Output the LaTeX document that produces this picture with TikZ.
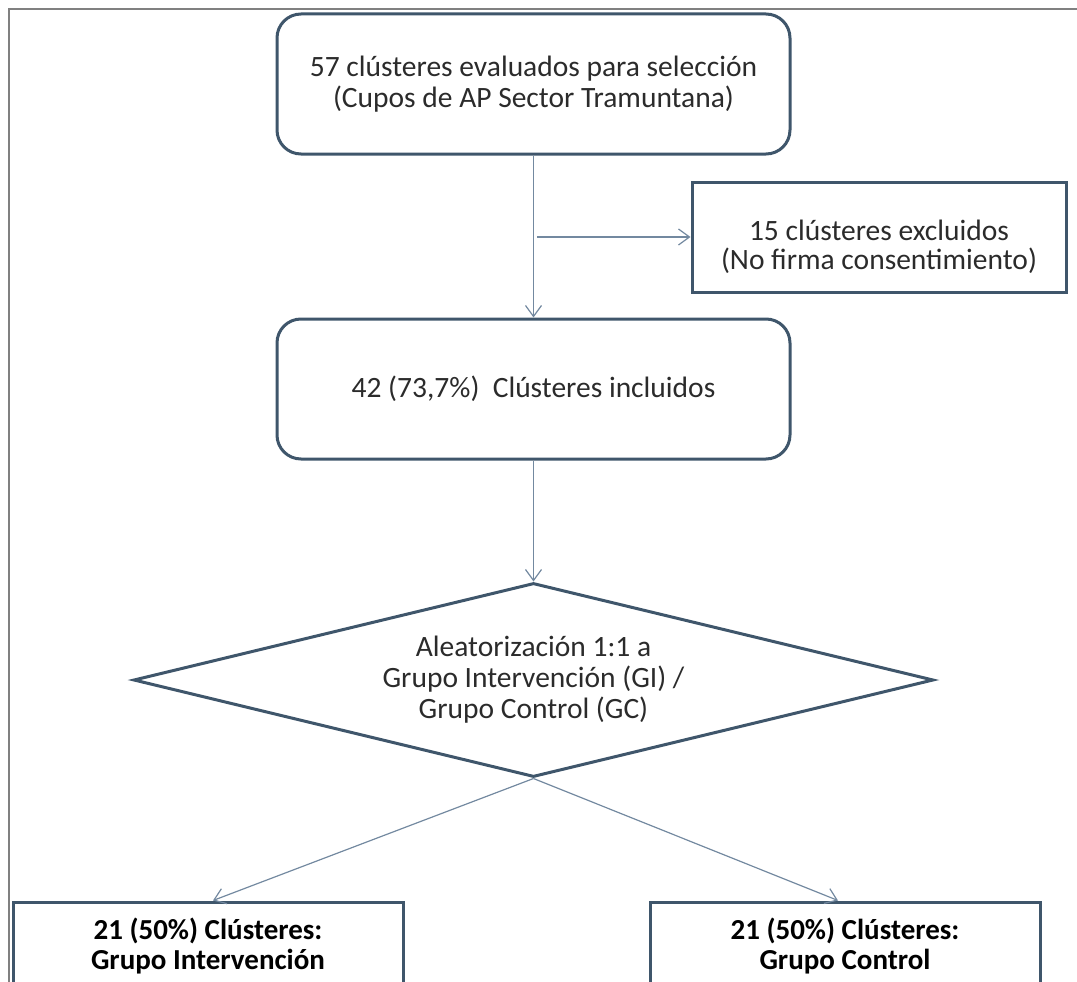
\documentclass[tikz,border=0pt]{standalone}
\usepackage{fontspec}
\setmainfont{Carlito}
\usetikzlibrary{shapes.geometric,arrows.meta}

\definecolor{boxline}{HTML}{3F566B}
\definecolor{arrline}{HTML}{7389A0}
\definecolor{txt}{HTML}{2B2B2B}

\tikzset{
  roundbox/.style={draw=boxline,line width=3pt,rounded corners=24pt,
    minimum width=513pt,minimum height=140pt,align=center,text=txt,
    font=\fontsize{29.5}{31}\selectfont},
  sidebox/.style={draw=boxline,line width=3pt,minimum width=374pt,
    minimum height=110pt,align=center,text=txt,font=\fontsize{29.5}{29}\selectfont},
  groupbox/.style={draw=boxline,line width=3pt,minimum width=390pt,
    minimum height=88pt,align=center,text=black,font=\fontsize{29}{30}\selectfont\bfseries},
  decision/.style={diamond,aspect=4.12,draw=boxline,line width=3pt,minimum width=800pt,
    minimum height=194pt,inner sep=0pt,align=center,text=txt,
    font=\fontsize{29.5}{31}\selectfont},
  arr/.style={draw=arrline,line width=1.2pt,-{Straight Barb[length=11pt,width=16pt]}}
}

\begin{document}
\begin{tikzpicture}[x=1pt,y=-1pt] %---- flow of clusters
\useasboundingbox (0,0) rectangle (1077,982);
\clip (0,0) rectangle (1077,982);
\draw[gray,line width=1.5pt] (9,990) |- (1090,9); % ---- frame

\node[roundbox] (eval) at (533.5,84) {57 clústeres evaluados para selección\\(Cupos de AP Sector Tramuntana)};
\node[sidebox] (excl) at (879,237) {\rule{0pt}{40pt}15 clústeres excluidos\\(No firma consentimiento)};
\node[roundbox] (incl) at (533.5,389) {42 (73,7\%)\ \ Clústeres incluidos};
\node[decision] (rand) at (533.5,680) {Aleatorización 1:1 a\\Grupo Intervención (GI) /\\Grupo Control (GC)};
\node[groupbox] (gi) at (208,946) {21 (50\%) Clústeres:\\Grupo Intervención};
\node[groupbox] (gc) at (845,946) {21 (50\%) Clústeres:\\Grupo Control};

\coordinate (split) at (537,237);

% --- arrows
\draw[arr] (eval) -- (incl);
\draw[arr] (split) -- (excl);
\draw[arr] (incl) -- (rand);
\draw[arr] (rand.south) -- ([xshift=5pt]gi.north);
\draw[arr] (rand.south) -- ([xshift=-7pt]gc.north);
\end{tikzpicture}
\end{document}
